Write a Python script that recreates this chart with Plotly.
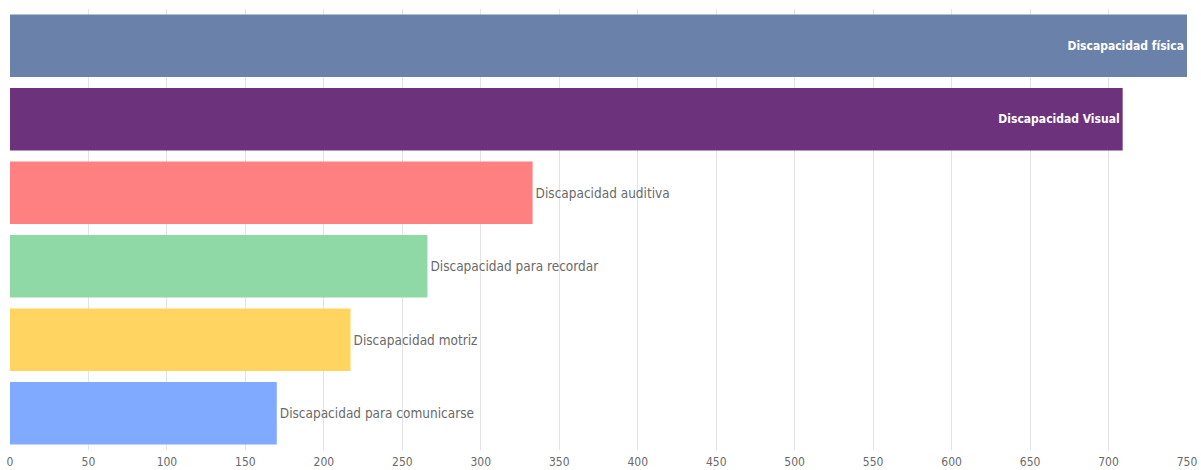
import plotly.graph_objects as go

categories = ["Discapacidad física", "Discapacidad Visual", "Discapacidad auditiva",
              "Discapacidad para recordar", "Discapacidad motriz", "Discapacidad para comunicarse"]
values = [750, 709, 333, 266, 217, 170]
colors = ["#6A81AA", "#6C327C", "#FF8080", "#8FD9A6", "#FFD460", "#80AAFF"]
text_positions = ["inside", "inside", "outside", "outside", "outside", "outside"]
text_colors = ["#FFFFFF", "#FFFFFF", "#6A6A6A", "#6A6A6A", "#6A6A6A", "#6A6A6A"]
text_sizes = [12, 12, 13.5, 13.5, 13.5, 13.5]
x_ticks = list(range(0, 751, 50))

FONT = "Liberation Sans Narrow, DejaVu Sans Condensed, sans-serif"

fig = go.Figure(go.Bar(
    y=categories,
    x=values,
    orientation="h",
    marker=dict(color=colors, line=dict(width=0)),
    text=[f"<b>{c}</b>" if p == "inside" else c for c, p in zip(categories, text_positions)],
    textposition=text_positions,
    insidetextanchor="end",
    textfont=dict(family=FONT, size=text_sizes, color=text_colors),
    cliponaxis=False,
    hoverinfo="skip",
))

fig.update_layout(
    width=1201, height=470,
    margin=dict(l=10, r=14, t=9, b=20, autoexpand=False),
    paper_bgcolor="white", plot_bgcolor="white",
    bargap=0.15,
    showlegend=False,
    xaxis=dict(range=[0, 750], tickvals=x_ticks, showgrid=True, gridcolor="#E3E3E3",
               gridwidth=1, zeroline=False, showline=False, automargin=False,
               ticklabelstandoff=3,
               tickfont=dict(family=FONT, size=12, color="#6A6A6A"), ticks=""),
    yaxis=dict(categoryorder="array", categoryarray=categories, autorange="reversed",
               automargin=False,
               showticklabels=False, showgrid=False, zeroline=False, showline=False, ticks=""),
)

fig.write_html("out.html",
               config={"displayModeBar": False},
               post_script="document.body.style.margin='0';document.body.style.overflow='hidden';")
